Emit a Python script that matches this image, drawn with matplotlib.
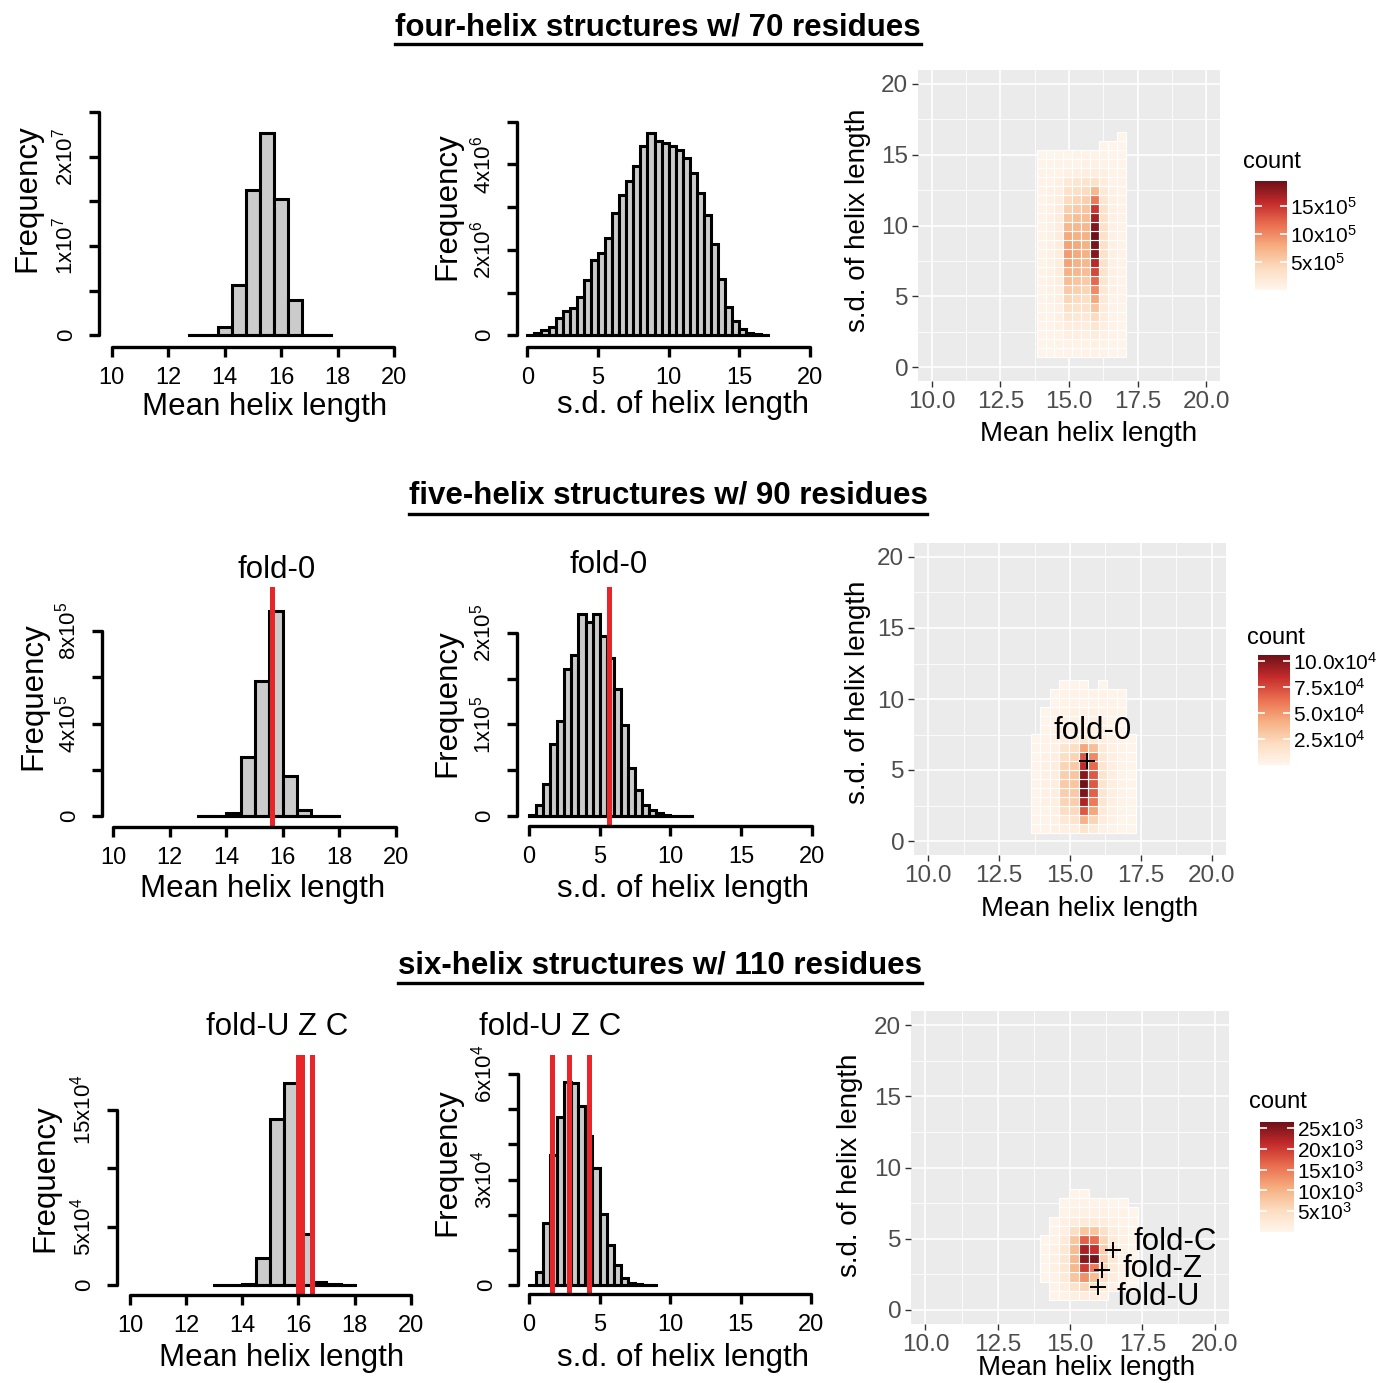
import numpy as np
import matplotlib
matplotlib.use('Agg')
import matplotlib.pyplot as plt
from matplotlib.colors import LinearSegmentedColormap, Normalize
from matplotlib.cm import ScalarMappable
from matplotlib.lines import Line2D

plt.rcParams['font.family'] = ['Liberation Sans', 'DejaVu Sans']
plt.rcParams['mathtext.fontset'] = 'custom'
plt.rcParams['mathtext.rm'] = 'Liberation Sans'
plt.rcParams['mathtext.it'] = 'Liberation Sans:italic'
plt.rcParams['mathtext.bf'] = 'Liberation Sans:bold'

W, H = 1388, 1383

# ---------------- data ----------------
row_titles = ['four-helix structures w/ 70 residues',
              'five-helix structures w/ 90 residues',
              'six-helix structures w/ 110 residues']

# histograms of mean helix length (bin width 0.5)
mean4_start, mean4 = 12.75, [0, 0, 0.09, 0.56, 1.63, 2.27, 1.53, 0.40, 0, 0]          # x1e7
mean5_start, mean5 = 13.0, [0, 0, 0.12, 2.53, 5.85, 8.85, 1.75, 0.26, 0, 0]           # x1e5
mean6_start, mean6 = 13.0, [0, 0, 0.05, 2.3, 14.2, 17.3, 4.4, 0.3, 0.05, 0]           # x1e4

# histograms of s.d. of helix length (bin width 0.5, from 0)
sd4 = [0.0, 0.05, 0.12, 0.19, 0.40, 0.58, 0.63, 0.90, 1.30, 1.77, 1.92, 2.27, 2.86, 3.29,
       3.62, 3.97, 4.42, 4.73, 4.54, 4.50, 4.42, 4.34, 4.16, 3.80, 3.33, 2.82, 2.14, 1.32,
       0.67, 0.34, 0.14, 0.06, 0.03, 0.015]                                              # x1e6
sd5 = [0.01, 0.12, 0.35, 0.79, 1.04, 1.60, 1.76, 2.20, 2.12, 2.20, 1.96, 1.72, 1.39, 0.99,
       0.52, 0.28, 0.12, 0.07, 0.03, 0.01, 0, 0, 0]                                      # x1e5
sd6 = [0, 0.36, 1.76, 3.71, 4.79, 5.78, 5.74, 5.10, 4.24, 3.33, 2.03, 1.14, 0.57, 0.19,
       0.07, 0.03, 0.01, 0]                                                              # x1e4

# reference folds
fold0_mean, fold0_sd = 15.6, 5.65
fold_names = ['fold-U', 'fold-Z', 'fold-C']
fold_means = [15.98, 16.12, 16.48]
fold_sds = [1.64, 2.81, 4.22]

# 2d count grids, rows listed top -> bottom
heat4 = [  # x1e5, x from 13.82 step 0.325, y from 0.73 step 0.635
    [0, 0, 0, 0, 0, 0, 0, 0, 0, 0.3],
    [0, 0, 0, 0, 0, 0, 0, 0.3, 0.3, 0.3],
    [0.3, 0.3, 0.3, 0.3, 0.4, 0.4, 0.5, 0.4, 0.3, 0.3],
    [0.3, 0.4, 0.4, 0.5, 0.6, 0.7, 0.8, 0.6, 0.4, 0.3],
    [0.4, 0.5, 0.6, 0.8, 1.0, 1.2, 1.5, 1.0, 0.5, 0.4],
    [0.4, 0.6, 0.8, 2.0, 2.5, 2.8, 3.0, 1.5, 0.6, 0.4],
    [0.5, 0.7, 1.0, 3.0, 3.5, 4.0, 7.0, 2.0, 0.7, 0.4],
    [0.5, 0.7, 1.2, 4.0, 4.5, 5.0, 11, 2.5, 0.8, 0.5],
    [0.5, 0.8, 1.3, 5.0, 5.5, 6.0, 15, 3.0, 0.8, 0.5],
    [0.5, 0.8, 1.4, 6.0, 6.5, 6.5, 17, 3.0, 0.9, 0.5],
    [0.6, 0.9, 1.5, 7.0, 7.0, 7.0, 18.5, 3.2, 0.9, 0.5],
    [0.6, 0.9, 1.5, 8.0, 7.5, 7.5, 19.5, 3.2, 0.9, 0.5],
    [0.6, 0.9, 1.5, 8.5, 8.0, 7.5, 19, 3.2, 0.9, 0.5],
    [0.6, 0.9, 1.5, 9.0, 8.0, 7.5, 18.5, 3.0, 0.9, 0.5],
    [0.6, 0.9, 1.4, 8.5, 7.5, 7.0, 16, 3.0, 0.8, 0.5],
    [0.5, 0.8, 1.3, 7.5, 7.0, 6.5, 14, 2.8, 0.8, 0.5],
    [0.5, 0.8, 1.2, 6.5, 6.0, 5.5, 12, 2.5, 0.7, 0.4],
    [0.5, 0.7, 1.1, 5.5, 5.0, 4.5, 10, 2.2, 0.7, 0.4],
    [0.4, 0.7, 1.0, 4.5, 4.0, 3.5, 8, 2.0, 0.6, 0.4],
    [0.4, 0.6, 0.9, 3.5, 3.0, 3.0, 6, 1.6, 0.6, 0.3],
    [0.4, 0.5, 0.8, 2.5, 2.2, 2.2, 4, 1.3, 0.5, 0.3],
    [0.3, 0.5, 0.7, 1.5, 1.5, 1.5, 2.5, 1.0, 0.5, 0.3],
    [0.3, 0.4, 0.5, 1.0, 1.0, 1.0, 1.5, 0.7, 0.4, 0.3],
    [0.3, 0.3, 0.4, 0.6, 0.6, 0.6, 0.8, 0.5, 0.3, 0.3],
    [0.3, 0.3, 0.3, 0.4, 0.4, 0.4, 0.5, 0.4, 0.3, 0.3],
]
heat5 = [  # x1e4, x from 13.62 step 0.336, y from 0.58 step 0.632
    [0, 0, 0, 0.2, 0.2, 0.2, 0, 0.2, 0, 0, 0],
    [0, 0, 0.2, 0.3, 0.3, 0.3, 0.3, 0.3, 0.2, 0.2, 0],
    [0, 0, 0.2, 0.3, 0.3, 0.3, 0.3, 0.3, 0.3, 0.2, 0],
    [0, 0.2, 0.3, 0.3, 0.4, 0.4, 0.4, 0.3, 0.3, 0.2, 0],
    [0, 0.2, 0.3, 0.4, 0.4, 0.5, 0.5, 0.4, 0.3, 0.2, 0],
    [0, 0.2, 0.3, 0.4, 0.5, 0.6, 0.5, 0.4, 0.3, 0.2, 0],
    [0.2, 0.3, 0.4, 0.6, 0.8, 1.2, 1.0, 0.6, 0.4, 0.3, 0.2],
    [0.2, 0.3, 0.5, 1.5, 2.0, 4.5, 3.5, 1.0, 0.5, 0.3, 0.2],
    [0.2, 0.4, 0.6, 2.0, 2.5, 7.0, 5.5, 1.2, 0.6, 0.3, 0.2],
    [0.2, 0.4, 0.7, 2.5, 3.0, 8.5, 6.5, 1.4, 0.6, 0.3, 0.2],
    [0.2, 0.4, 0.7, 2.8, 3.2, 10.0, 7.0, 1.5, 0.7, 0.3, 0.2],
    [0.2, 0.4, 0.7, 3.0, 3.2, 10.5, 7.0, 1.5, 0.7, 0.3, 0.2],
    [0.2, 0.4, 0.7, 2.8, 3.0, 10.2, 6.8, 1.4, 0.6, 0.3, 0.2],
    [0.2, 0.4, 0.6, 2.5, 2.8, 9.0, 6.0, 1.3, 0.6, 0.3, 0.2],
    [0.2, 0.3, 0.5, 2.0, 2.2, 7.0, 4.5, 1.0, 0.5, 0.3, 0.2],
    [0.2, 0.3, 0.5, 1.2, 1.5, 4.0, 2.5, 0.8, 0.4, 0.2, 0.2],
    [0.2, 0.3, 0.4, 0.6, 0.7, 1.5, 1.0, 0.5, 0.3, 0.2, 0.2],
]
heat6 = [  # x1e3, x from 13.95 step 0.34, y from 0.7 step 0.65
    [0, 0, 0, 0.5, 0.5, 0, 0, 0, 0, 0],
    [0, 0, 0.5, 0.8, 0.8, 0.8, 0.6, 0.5, 0.5, 0],
    [0, 0, 0.6, 1.0, 1.2, 1.2, 1.0, 0.8, 0.6, 0.5],
    [0, 0.5, 1.0, 2.0, 2.5, 2.5, 2.0, 1.2, 0.8, 0.5],
    [0, 0.6, 1.5, 5.0, 8.0, 8.0, 4.5, 2.0, 1.0, 0.6],
    [0.5, 0.8, 2.5, 8.0, 17, 16, 6.0, 2.5, 1.2, 0.6],
    [0.5, 1.0, 3.0, 9.0, 23, 21, 7.0, 3.0, 1.2, 0.6],
    [0.5, 1.0, 3.2, 9.5, 25, 26, 7.0, 3.0, 1.2, 0.6],
    [0.5, 1.0, 3.0, 9.5, 20, 15, 6.0, 2.5, 1.0, 0.6],
    [0.5, 0.8, 2.5, 8.0, 13, 9, 4.5, 2.0, 0.8, 0.5],
    [0, 0.6, 1.5, 4.0, 6.0, 5.0, 2.5, 1.2, 0.6, 0.5],
    [0, 0.5, 0.8, 1.5, 2.0, 2.0, 1.2, 0, 0, 0],
]
heat_max = [19.5e5, 10.6e4, 26.5e3]
cbar_ticks = [[5e5, 10e5, 15e5], [2.5e4, 5e4, 7.5e4, 10e4], [5e3, 10e3, 15e3, 20e3, 25e3]]
cbar_labels = [['5x10$^{5}$', '10x10$^{5}$', '15x10$^{5}$'],
               ['2.5x10$^{4}$', '5.0x10$^{4}$', '7.5x10$^{4}$', '10.0x10$^{4}$'],
               ['5x10$^{3}$', '10x10$^{3}$', '15x10$^{3}$', '20x10$^{3}$', '25x10$^{3}$']]

cmap = LinearSegmentedColormap.from_list(
    'count', ['#FFF6EC', '#FCDCC0', '#F6AE80', '#EA6E50', '#C42B2B', '#6D1018'])
RED = '#E8262A'
BIG = 22.5

fig = plt.figure(figsize=(W / 100, H / 100), dpi=100)


def px_rect(left, top, right, bottom):
    return [left / W, 1 - bottom / H, (right - left) / W, (bottom - top) / H]


def ftext(x, y, s, **kw):
    return fig.text(x / W, 1 - y / H, s, **kw)


def hist_axes(xmap, ymap, yaxis_px, xaxis_px, top_px, xmax):
    (xa, pxa), (xb, pxb) = xmap
    (ya, pya), (yb, pyb) = ymap
    sx = (pxb - pxa) / (xb - xa)
    sy = (pyb - pya) / (yb - ya)
    ax = fig.add_axes(px_rect(yaxis_px, top_px, pxa + (xmax - xa) * sx, xaxis_px))
    ax.set_xlim(xa + (yaxis_px - pxa) / sx, xmax)
    ax.set_ylim(ya + (xaxis_px - pya) / sy, ya + (top_px - pya) / sy)
    return ax


def draw_hist(ax, start, counts, scale, xticks, yticks, ylabels, lines=()):
    left = start + 0.5 * np.arange(len(counts))
    ax.bar(left, np.array(counts) * scale, width=0.5, align='edge',
           color='#CBCBCB', edgecolor='black', linewidth=2.2)
    ax.plot([left[0], left[-1] + 0.5], [0, 0], color='black', lw=2.2)
    for v in lines:
        ax.axvline(v, color=RED, lw=3.6)
    ax.patch.set_visible(False)
    for s in ['top', 'right']:
        ax.spines[s].set_visible(False)
    for s in ['left', 'bottom']:
        ax.spines[s].set_linewidth(2.4)
        ax.spines[s].set_capstyle('round')
    ax.spines['bottom'].set_bounds(xticks[0], xticks[-1])
    ax.spines['left'].set_bounds(yticks[0], yticks[-1])
    ax.set_xticks(xticks)
    ax.set_xticklabels([str(t) for t in xticks])
    ax.set_yticks(yticks)
    ax.set_yticklabels(ylabels, rotation=90, va='center')
    ax.tick_params(length=7.5, width=2.4, direction='out')
    ax.tick_params(axis='x', labelsize=17, pad=7)
    ax.tick_params(axis='y', labelsize=16, pad=8)


def heat_axes(left, right, y20_px, y0_px):
    ppu = (y0_px - y20_px) / 20
    ax = fig.add_axes(px_rect(left, y20_px - ppu, right, y0_px + ppu))
    ax.set_xlim(9.5, 20.5)
    ax.set_ylim(-1, 21)
    ax.set_facecolor('#EBEBEB')
    ax.set_xticks([10, 12.5, 15, 17.5, 20])
    ax.set_xticklabels(['10.0', '12.5', '15.0', '17.5', '20.0'])
    ax.set_yticks([0, 5, 10, 15, 20])
    ax.set_xticks([11.25, 13.75, 16.25, 18.75], minor=True)
    ax.set_yticks([2.5, 7.5, 12.5, 17.5], minor=True)
    ax.grid(which='major', color='white', lw=1.2)
    ax.grid(which='minor', color='white', lw=0.6)
    ax.set_axisbelow(True)
    for s in ax.spines.values():
        s.set_visible(False)
    ax.tick_params(which='major', length=4, width=1, color='#333333',
                   labelcolor='#4D4D4D', labelsize=17.5, pad=3)
    ax.tick_params(which='minor', length=0)
    return ax


def draw_tiles(ax, grid, unit, x0, dx, y0, dy, norm):
    g = np.array(grid, dtype=float)[::-1] * unit
    rows, cols = np.nonzero(g > 0)
    vals = g[rows, cols]
    ax.bar(x0 + cols * dx, dy, width=dx, bottom=y0 + rows * dy, align='edge',
           color=cmap(norm(vals)), edgecolor='white', linewidth=0.8, zorder=2)


def draw_cbar(left, top, right, bottom, vmax, ticks, labels, title_xy):
    cax = fig.add_axes(px_rect(left, top, right, bottom))
    cb = fig.colorbar(ScalarMappable(norm=Normalize(0, vmax), cmap=cmap), cax=cax)
    cb.outline.set_visible(False)
    cb.set_ticks(ticks)
    cb.set_ticklabels(labels)
    cax.yaxis.set_ticks_position('both')
    cax.tick_params(direction='in', length=5, width=1.2, color='white',
                    labelleft=False, labelright=True, labelsize=15, pad=2)
    ftext(title_xy[0], title_xy[1], 'count', fontsize=17, ha='left', va='center')


# ---------------- row titles ----------------
title_pos = [(658, 27, 44), (668, 495, 514), (660, 965, 983)]
fig.canvas.draw()
renderer = fig.canvas.get_renderer()
for text, (x, y, uy) in zip(row_titles, title_pos):
    t = ftext(x, y, text, fontsize=BIG, fontweight='bold', ha='center', va='center')
    bb = t.get_window_extent(renderer)
    fig.add_artist(Line2D([bb.x0 / W, bb.x1 / W], [1 - uy / H, 1 - uy / H],
                          color='black', lw=2.4, transform=fig.transFigure))

# ---------------- histograms ----------------
mean_ticks = [10, 12, 14, 16, 18, 20]
sd_ticks = [0, 5, 10, 15, 20]

ax = hist_axes([(10, 111.7), (20, 394.3)], [(0, 335.3), (2e7, 156.7)], 99, 346.7, 105, 20.4)
draw_hist(ax, mean4_start, mean4, 1e7, mean_ticks, np.arange(0, 2.6e7, 0.5e7),
          ['0', '', '1x10$^{7}$', '', '2x10$^{7}$', ''])
ax = hist_axes([(0, 527.3), (20, 810)], [(0, 335.3), (5e6, 121.7)], 517, 346.7, 115, 20.8)
draw_hist(ax, 0, sd4, 1e6, sd_ticks, np.arange(0, 5.1e6, 1e6),
          ['0', '', '2x10$^{6}$', '', '4x10$^{6}$', ''])

ax = hist_axes([(10, 113.3), (20, 396)], [(0, 816), (8e5, 631)], 101.7, 826.7, 587, 20.4)
draw_hist(ax, mean5_start, mean5, 1e5, mean_ticks, np.arange(0, 8.1e5, 2e5),
          ['0', '', '4x10$^{5}$', '', '8x10$^{5}$'], lines=[fold0_mean])
ax.annotate('fold-0', (15.77, 1 - 570 / H), xycoords=('data', 'figure fraction'),
            ha='center', va='center', fontsize=BIG)
ax = hist_axes([(0, 529), (20, 811.7)], [(0, 816), (2e5, 632.7)], 516.7, 826, 586.7, 20.8)
draw_hist(ax, 0, sd5, 1e5, sd_ticks, np.arange(0, 2.1e5, 0.5e5),
          ['0', '', '1x10$^{5}$', '', '2x10$^{5}$'], lines=[fold0_sd])
ax.annotate('fold-0', (5.63, 1 - 565 / H), xycoords=('data', 'figure fraction'),
            ha='center', va='center', fontsize=BIG)

ax = hist_axes([(10, 130), (20, 410.7)], [(0, 1285), (15e4, 1110)], 116.7, 1295, 1055, 20.4)
draw_hist(ax, mean6_start, mean6, 1e4, mean_ticks, np.arange(0, 15.1e4, 5e4),
          ['0', '5x10$^{4}$', '', '15x10$^{4}$'], lines=fold_means)
ax.annotate('fold-U Z C', (15.24, 1 - 1027 / H), xycoords=('data', 'figure fraction'),
            ha='center', va='center', fontsize=BIG)
ax = hist_axes([(0, 529), (20, 811)], [(0, 1285), (6e4, 1074)], 518.3, 1294, 1055, 20.8)
draw_hist(ax, 0, sd6, 1e4, sd_ticks, np.arange(0, 6.1e4, 1e4),
          ['0', '', '', '3x10$^{4}$', '', '', '6x10$^{4}$'], lines=fold_sds)
ax.annotate('fold-U Z C', (1.49, 1 - 1027 / H), xycoords=('data', 'figure fraction'),
            ha='center', va='center', fontsize=BIG)

hist_xlabels = [('Mean helix length', 265, 407), ('s.d. of helix length', 683, 405),
                ('Mean helix length', 263, 889), ('s.d. of helix length', 683, 889),
                ('Mean helix length', 282, 1358), ('s.d. of helix length', 683, 1358)]
for s, x, y in hist_xlabels:
    ftext(x, y, s, fontsize=BIG, ha='center', va='center')
for x, y in [(27, 198), (447, 206), (33, 696), (447, 703), (45, 1178), (447, 1162)]:
    ftext(x, y, 'Frequency', fontsize=BIG, ha='center', va='center', rotation=90)

# ---------------- heatmaps ----------------
ax = heat_axes(918, 1220, 84, 367)
draw_tiles(ax, heat4, 1e5, 13.82, 0.325, 0.73, 0.635, Normalize(0, heat_max[0]))
draw_cbar(1255, 181, 1287, 290, heat_max[0], cbar_ticks[0], cbar_labels[0], (1243, 162))

ax = heat_axes(914, 1226, 557, 841)
draw_tiles(ax, heat5, 1e4, 13.62, 0.336, 0.58, 0.632, Normalize(0, heat_max[1]))
ax.plot([fold0_mean], [fold0_sd], marker='+', color='black', ms=11, mew=1.4, zorder=3)
ax.text(15.79, 7.75, 'fold-0', fontsize=BIG, ha='center', va='center', zorder=3)
draw_cbar(1258, 655, 1290, 765, heat_max[1], cbar_ticks[1], cbar_labels[1], (1247, 638))

ax = heat_axes(911, 1229, 1025, 1310)
draw_tiles(ax, heat6, 1e3, 13.95, 0.34, 0.7, 0.65, Normalize(0, heat_max[2]))
ax.plot(fold_means, fold_sds, '+', color='black', ms=11, mew=1.4, zorder=3)
for name, x, y in zip(fold_names, [16.6, 16.83, 17.2], [0.91, 2.88, 4.77]):
    ax.text(x, y, name, fontsize=BIG, ha='left', va='center', zorder=3)
draw_cbar(1260, 1122, 1294, 1232, heat_max[2], cbar_ticks[2], cbar_labels[2], (1249, 1102))

heat_labels = [(1089, 434, 858, 220), (1090, 909, 858, 692), (1087, 1368, 850, 1165)]
for xx, xy, yx, yy in heat_labels:
    ftext(xx, xy, 'Mean helix length', fontsize=20, ha='center', va='center')
    ftext(yx, yy, 's.d. of helix length', fontsize=20, ha='center', va='center', rotation=90)

fig.savefig('out.png', dpi=100)
